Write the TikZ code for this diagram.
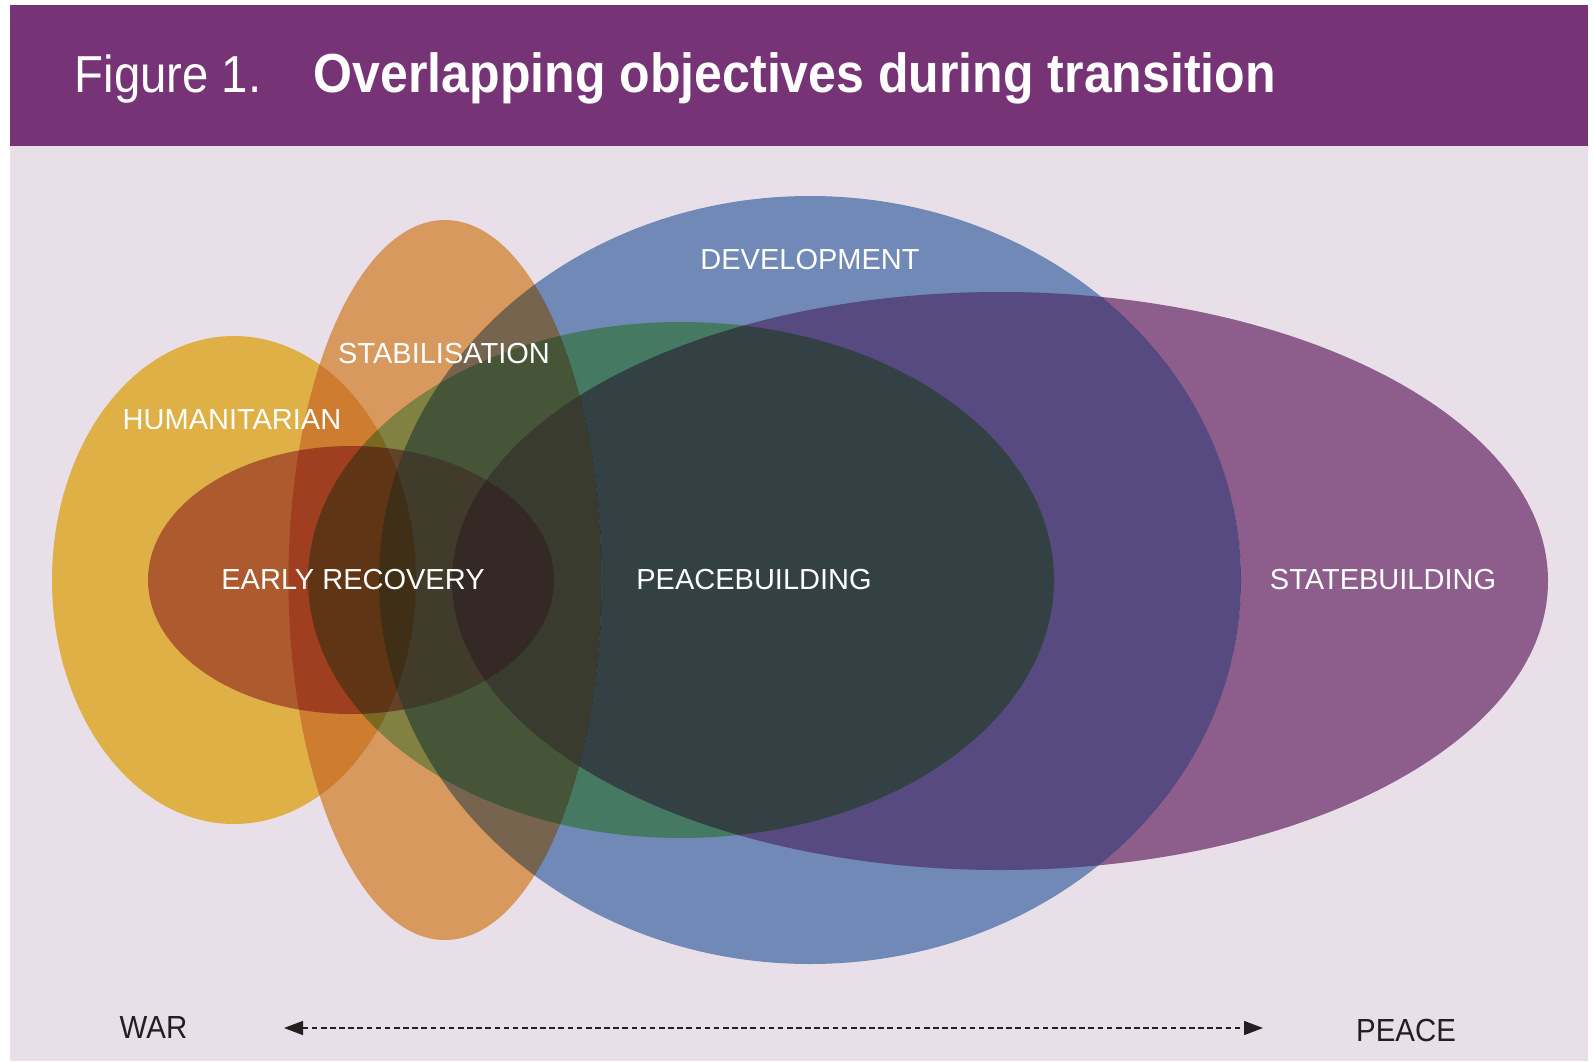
\documentclass[tikz,border=0pt]{standalone}
\usepackage{fontspec}
\setmainfont{Liberation Sans}
\newfontfamily\narrowfont[FakeStretch=0.92]{Liberation Sans}
\newfontfamily\titlefont[FakeStretch=0.91]{Liberation Sans}
\usetikzlibrary{arrows.meta}

\definecolor{panelbg}{HTML}{E9DFE9}
\definecolor{headbar}{HTML}{763477}
\definecolor{axiscol}{HTML}{231F20}
% multiply filters
\definecolor{humcol}{RGB}{245,202,77}
\definecolor{stabcol}{RGB}{237,176,103}
\definecolor{stabhum}{RGB}{235,181,176}
\definecolor{devcol}{RGB}{124,157,201}
\definecolor{devstab}{RGB}{140,168,217}
\definecolor{statecol}{RGB}{155,108,154}
\definecolor{statedev}{RGB}{196,138,181}
\definecolor{statestab}{RGB}{209,179,222}
\definecolor{peacecol}{RGB}{156,227,136}
\definecolor{peacestab}{RGB}{153,217,179}
\definecolor{recovcol}{RGB}{198,131,168}
\definecolor{recovdev}{RGB}{240,179,201}

% the six areas
\newcommand{\humzone}{(2.34,4.81) ellipse (1.82cm and 2.44cm)}
\newcommand{\stabzone}{(4.45,4.81) ellipse (1.565cm and 3.60cm)}
\newcommand{\devzone}{(8.10,4.81) ellipse (4.31cm and 3.84cm)}
\newcommand{\statezone}{(10.00,4.80) ellipse (5.48cm and 2.89cm)}
\newcommand{\peacezone}{(6.81,4.81) ellipse (3.73cm and 2.58cm)}
\newcommand{\recovzone}{(3.51,4.81) ellipse (2.03cm and 1.34cm)}
\newcommand{\wholepage}{(0,0) rectangle (15.93,10.61)}

\begin{document}
\begin{tikzpicture}[
	zone/.style={text=white, inner sep=0pt, font=\fontsize{8.25}{10}\selectfont},
	pole/.style={text=axiscol, inner sep=0pt, font=\narrowfont\fontsize{9.1}{11}\selectfont},
	heading/.style={anchor=base west, text=white, inner sep=0pt}
	]
	
	\useasboundingbox \wholepage;
	\fill[white] \wholepage;
	
	% Panel
	\fill[panelbg] (0.10,0) rectangle (15.88,9.15);
	\fill[headbar] (0.10,9.15) rectangle (15.88,10.56);
	
	% Heading
	\node[heading, font=\titlefont\fontsize{14.8}{17}\selectfont] (fignum) at (0.74,9.69) {Figure 1.};
	\node[heading, font=\titlefont\bfseries\fontsize{15.65}{18}\selectfont] (title) at (3.13,9.69) {Overlapping objectives during transition};
	
	% Objectives
	\begin{scope}[blend mode=multiply]
		% humanitarian
		\fill[humcol] \humzone;
		% stabilisation
		\begin{scope}
			\clip \stabzone;
			\fill[stabcol, even odd rule] \wholepage \humzone;
		\end{scope}
		\begin{scope}
			\clip \humzone;
			\fill[stabhum] \stabzone;
		\end{scope}
		% development
		\begin{scope}
			\clip \devzone;
			\fill[devcol, even odd rule] \wholepage \stabzone;
		\end{scope}
		\begin{scope}
			\clip \stabzone;
			\fill[devstab] \devzone;
		\end{scope}
		% statebuilding
		\begin{scope}
			\clip \statezone;
			\fill[statecol, even odd rule] \wholepage \devzone;
		\end{scope}
		\begin{scope}
			\clip \devzone;
			\clip \statezone;
			\fill[statedev, even odd rule] \wholepage \stabzone;
		\end{scope}
		\begin{scope}
			\clip \devzone;
			\clip \stabzone;
			\fill[statestab] \statezone;
		\end{scope}
		% peacebuilding
		\begin{scope}
			\clip \peacezone;
			\fill[peacecol, even odd rule] \wholepage \stabzone;
		\end{scope}
		\begin{scope}
			\clip \stabzone;
			\fill[peacestab] \peacezone;
		\end{scope}
		% early recovery
		\begin{scope}
			\clip \recovzone;
			\fill[recovcol, even odd rule] \wholepage \devzone;
		\end{scope}
		\begin{scope}
			\clip \devzone;
			\fill[recovdev] \recovzone;
		\end{scope}
	\end{scope}
	
	% Labels
	\node[zone] (dev) at (8.10,8.01) {DEVELOPMENT};
	\node[zone] (stab) at (4.44,7.07) {STABILISATION};
	\node[zone] (hum) at (2.32,6.41) {HUMANITARIAN};
	\node[zone] (recov) at (3.53,4.81) {EARLY RECOVERY};
	\node[zone] (peace) at (7.54,4.81) {PEACEBUILDING};
	\node[zone] (state) at (13.83,4.81) {STATEBUILDING};
	
	% War - peace axis
	\node[pole] (war) at (1.535,0.335) {WAR};
	\node[pole] (peaceend) at (14.06,0.31) {PEACE};
	\coordinate (axisleft) at (2.84,0.33);
	\coordinate (axisright) at (12.63,0.33);
	\draw[axiscol, line width=0.43pt, dash pattern=on 1.6pt off 1pt, {Triangle[length=0.19cm, width=0.14cm]}-{Triangle[length=0.19cm, width=0.14cm]}] (axisleft) -- (axisright);
	
\end{tikzpicture}
\end{document}
